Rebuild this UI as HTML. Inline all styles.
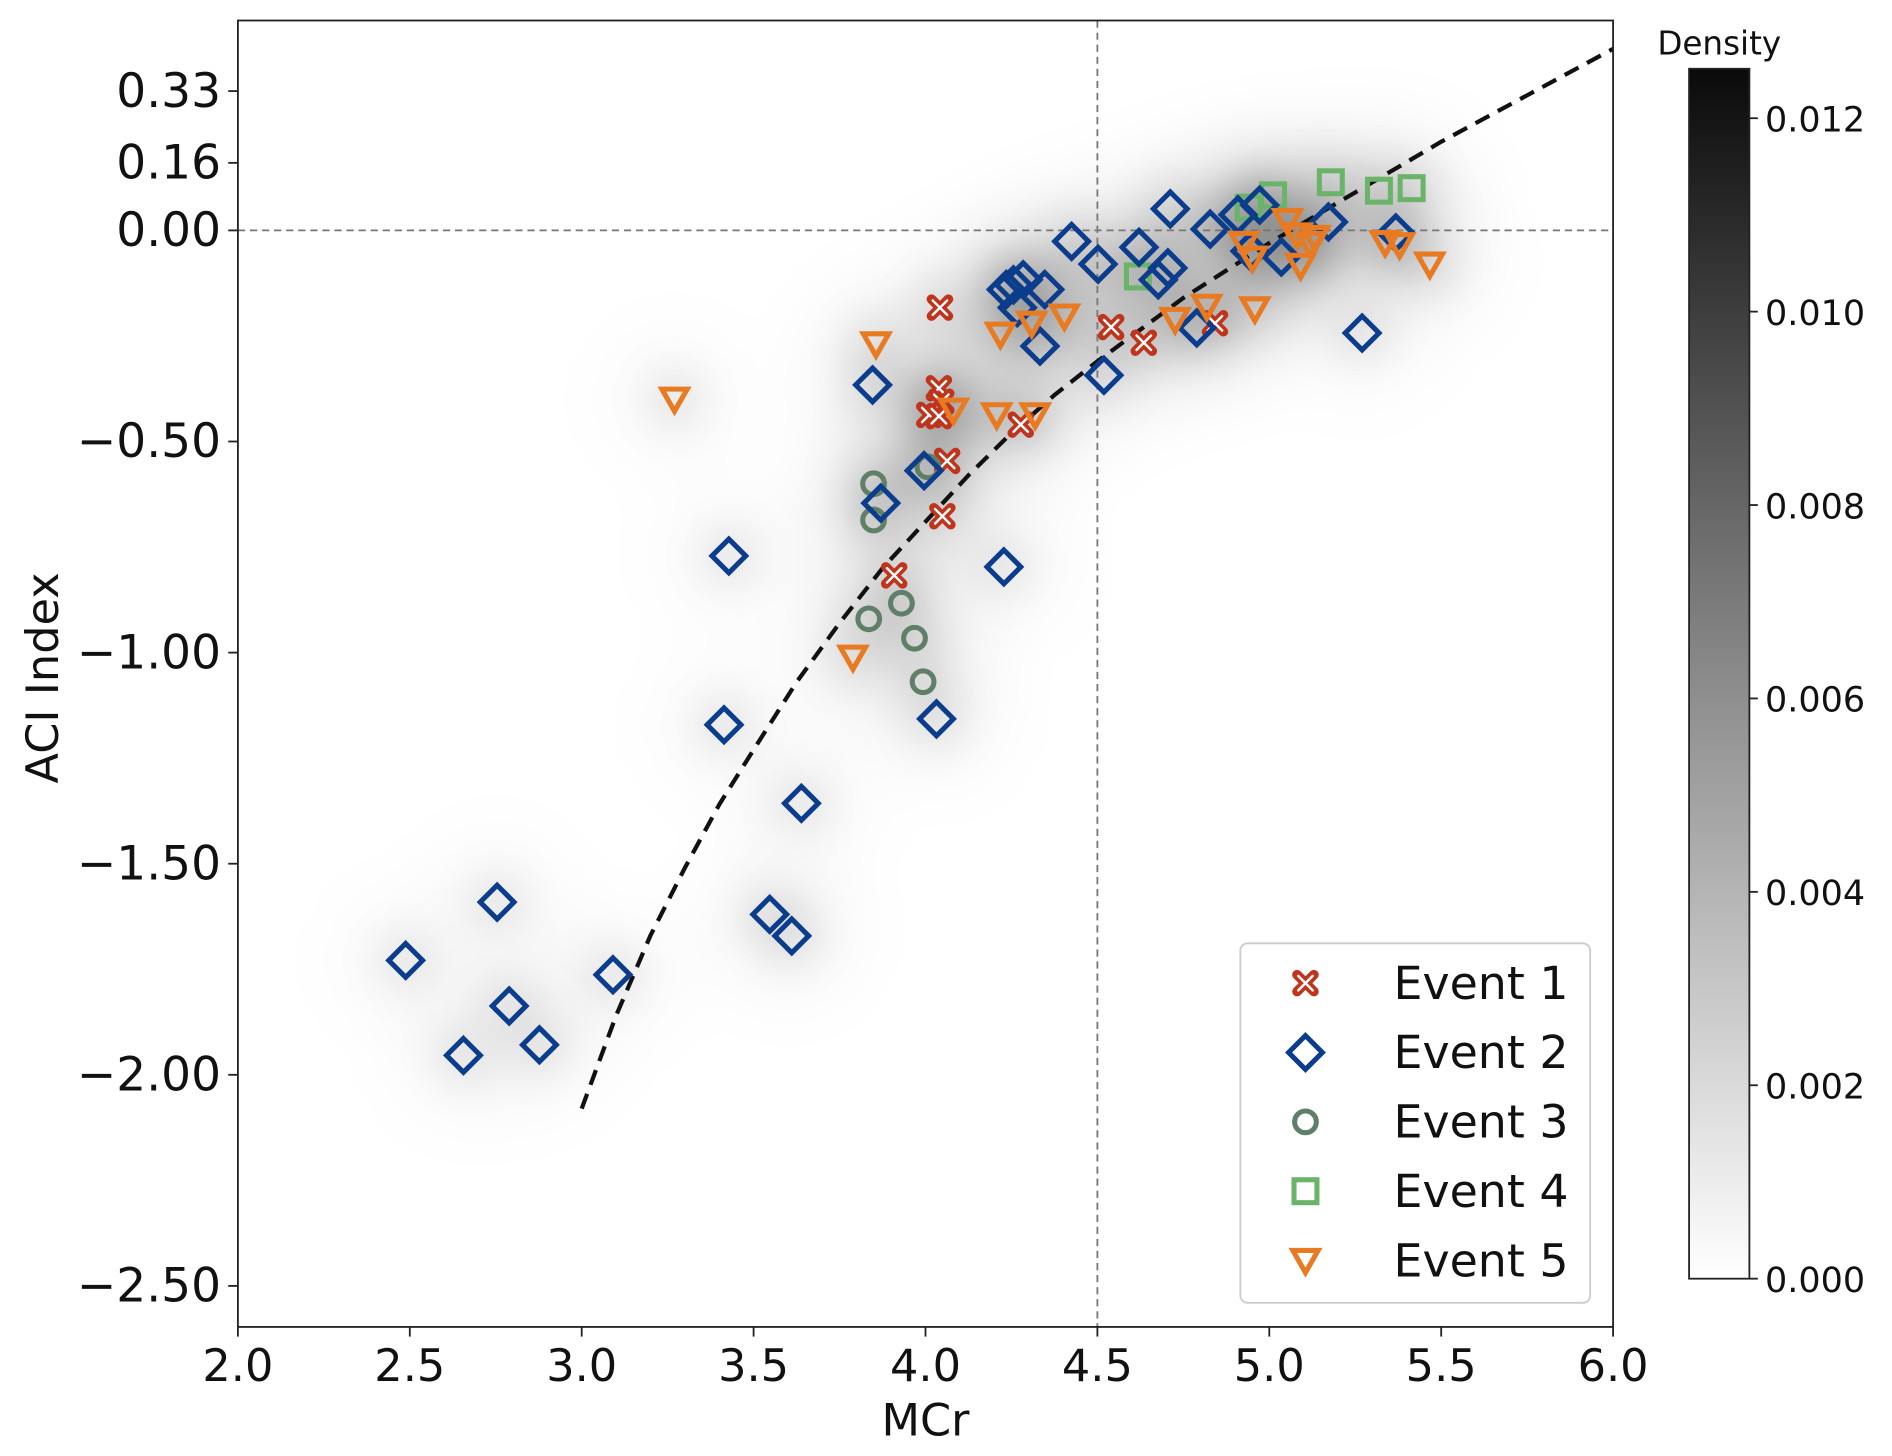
<!DOCTYPE html>
<html><head><meta charset="utf-8"><style>
html,body{margin:0;padding:0;background:#fff;}
svg{display:block;font-family:"DejaVu Sans","Liberation Sans",sans-serif;}
</style></head><body>
<svg id="chart" width="1892" height="1456" viewBox="0 0 1568 1207" xmlns="http://www.w3.org/2000/svg">
<defs>
<filter id="blur" x="-50%" y="-50%" width="200%" height="200%"><feGaussianBlur stdDeviation="16"/></filter>
<filter id="blur2" x="-50%" y="-50%" width="200%" height="200%"><feGaussianBlur stdDeviation="30"/></filter>
<linearGradient id="cbgrad" x1="0" y1="1" x2="0" y2="0">
<stop offset="0" stop-color="#ffffff"/><stop offset="0.5" stop-color="#8a8a8a"/><stop offset="1" stop-color="#0a0a0a"/>
</linearGradient>
<clipPath id="plotclip"><rect x="197" y="17" width="1140" height="1083"/></clipPath>
</defs>
<g clip-path="url(#plotclip)">
<g id="density2" filter="url(#blur2)"></g>
<g id="density" filter="url(#blur)"></g>
</g>
<g id="grid"></g>
<g id="curve"></g>
<g id="marks"></g>
<rect x="197" y="17" width="1140" height="1083" fill="none" stroke="#222" stroke-width="1.5"/>
<g id="axes"></g>
<text x="767" y="1190" font-size="37" text-anchor="middle" fill="#111">MCr</text>
<text transform="translate(48,562) rotate(-90)" font-size="37" text-anchor="middle" fill="#111">ACI Index</text>
<g>
<rect x="1028" y="782" width="290" height="298" rx="6" fill="#fff" fill-opacity="0.85" stroke="#ccc" stroke-width="1.5"/>
<g id="legend-items"></g>
</g>
<g>
<text x="1425" y="45" font-size="27" text-anchor="middle" fill="#111">Density</text>
<rect x="1400" y="57" width="50" height="1003" fill="url(#cbgrad)" stroke="#222" stroke-width="1.5"/>
<g id="cbticks"></g>
</g>
</svg>
<script>
const xTicks=[2.0,2.5,3.0,3.5,4.0,4.5,5.0,5.5,6.0];
const yTicks=[0.33,0.16,0.0,-0.5,-1.0,-1.5,-2.0,-2.5];
const yTickLabels=["0.33","0.16","0.00","\u22120.50","\u22121.00","\u22121.50","\u22122.00","\u22122.50"];
const cbTicks=[0,0.002,0.004,0.006,0.008,0.010,0.012];
const curveX=[3.0,3.1,3.2,3.3,3.4,3.5,3.625,3.75,3.875,4.0,4.125,4.25,4.375,4.5,4.75,5.0,5.25,5.5,5.75,6.0];
const curveY=[-2.08,-1.86,-1.67,-1.51,-1.36,-1.23,-1.07,-0.93,-0.80,-0.69,-0.58,-0.48,-0.39,-0.31,-0.16,-0.03,0.09,0.21,0.32,0.43];
const e1x=[4.042,4.039,4.046,4.011,4.039,4.063,4.049,3.909,4.540,4.635,4.842,4.277];
const e1y=[-0.183,-0.374,-0.406,-0.437,-0.440,-0.546,-0.677,-0.817,-0.229,-0.266,-0.220,-0.460];
const e2x=[2.488,2.656,2.754,2.789,2.877,3.091,3.428,3.414,3.547,3.611,3.639,3.846,3.870,3.996,4.032,4.228,4.235,4.256,4.284,4.267,4.333,4.347,4.425,4.502,4.519,4.621,4.705,4.677,4.712,4.789,4.828,4.909,4.944,5.035,5.172,5.270,5.368,4.972];
const e2y=[-1.729,-1.954,-1.591,-1.837,-1.929,-1.763,-0.771,-1.171,-1.620,-1.671,-1.357,-0.366,-0.646,-0.569,-1.157,-0.797,-0.140,-0.129,-0.117,-0.183,-0.274,-0.140,-0.026,-0.080,-0.343,-0.040,-0.089,-0.117,0.051,-0.231,0.003,0.037,-0.049,-0.063,0.020,-0.243,-0.006,0.060];
const e3x=[3.849,3.849,4.007,3.835,3.930,3.968,3.993];
const e3y=[-0.600,-0.686,-0.560,-0.920,-0.883,-0.966,-1.069];
const e4x=[4.618,4.940,5.011,5.179,5.319,5.414];
const e4y=[-0.109,0.054,0.083,0.114,0.094,0.100];
const e5x=[3.270,3.856,4.081,3.789,4.207,4.319,4.218,4.309,4.404,4.726,4.818,4.958,4.926,4.951,5.053,5.081,5.119,5.133,5.091,5.337,5.379,5.467];
const e5y=[-0.400,-0.269,-0.426,-1.011,-0.437,-0.437,-0.246,-0.220,-0.203,-0.211,-0.180,-0.186,-0.031,-0.066,0.023,-0.011,-0.031,-0.017,-0.083,-0.029,-0.034,-0.080];

const NS="http://www.w3.org/2000/svg";
const X=v=>197+(v-2)*285;
const Y=v=>191-v*350;
const CB=v=>1060-v/0.012*962;
function mk(tag,attrs,parent){const e=document.createElementNS(NS,tag);for(const k in attrs)e.setAttribute(k,attrs[k]);parent.appendChild(e);return e;}
const g=id=>document.getElementById(id);

const dens=g('density'), dens2=g('density2');
const allX=[...e1x,...e2x,...e3x,...e4x,...e5x], allY=[...e1y,...e2y,...e3y,...e4y,...e5y];
allX.forEach((x,i)=>{
const b=mk('circle',{cx:X(x),cy:Y(allY[i]),r:55,fill:'#000','fill-opacity':0.025},dens2);


const c=mk('circle',{cx:X(x),cy:Y(allY[i]),r:26,fill:'#000','fill-opacity':0.07},dens);

});

const grid=g('grid');
let l=mk('line',{x1:X(4.5),x2:X(4.5),y1:17,y2:1100,stroke:'#777','stroke-width':1.5,'stroke-dasharray':'6,4'},grid);


l=mk('line',{x1:197,x2:1337,y1:Y(0),y2:Y(0),stroke:'#777','stroke-width':1.5,'stroke-dasharray':'6,4'},grid);



const p=mk('path',{d:curveX.map((x,i)=>(i?'L':'M')+X(x)+','+Y(curveY[i])).join(' '),fill:'none',stroke:'#111','stroke-width':3.5,'stroke-dasharray':'13,8','stroke-linejoin':'round'},g('curve'));



const ax=g('axes');
xTicks.forEach(t=>{mk('line',{x1:X(t),x2:X(t),y1:1100,y2:1108,stroke:'#222','stroke-width':1.5},ax);
const tx=mk('text',{x:X(t),y:1145,'font-size':37,'text-anchor':'middle',fill:'#111'},ax);tx.textContent=t.toFixed(1);

});
yTicks.forEach((t,i)=>{mk('line',{x1:189,x2:197,y1:Y(t),y2:Y(t),stroke:'#222','stroke-width':1.5},ax);
const tx=mk('text',{x:183,y:Y(t)+13,'font-size':39,'text-anchor':'end',fill:'#111'},ax);tx.textContent=yTickLabels[i];

});
const cbt=g('cbticks');
cbTicks.forEach(t=>{mk('line',{x1:1450,x2:1457,y1:CB(t),y2:CB(t),stroke:'#222','stroke-width':1.5},cbt);
const tx=mk('text',{x:1463,y:CB(t)+11,'font-size':29,fill:'#111'},cbt);tx.textContent=t.toFixed(3);

});

const cols=['#c0341c','#0b3d8c','#5f7f68','#6ab46a','#e87a22'];
function marker(type,cx,cy,parent,s){s=s||1;const c=cols[type];let e;
if(type===0){e=mk('g',{},parent);
mk('line',{x1:cx-7*s,y1:cy-7*s,x2:cx+7*s,y2:cy+7*s,stroke:c,'stroke-width':8*s,'stroke-linecap':'round'},e);
mk('line',{x1:cx-7*s,y1:cy+7*s,x2:cx+7*s,y2:cy-7*s,stroke:c,'stroke-width':8*s,'stroke-linecap':'round'},e);
mk('line',{x1:cx-6*s,y1:cy-6*s,x2:cx+6*s,y2:cy+6*s,stroke:'#fff','stroke-width':2,'stroke-linecap':'round'},e);
mk('line',{x1:cx-6*s,y1:cy+6*s,x2:cx+6*s,y2:cy-6*s,stroke:'#fff','stroke-width':2,'stroke-linecap':'round'},e);}
else if(type===1){const r=14*s;e=mk('path',{d:`M${cx},${cy-r}L${cx+r},${cy}L${cx},${cy+r}L${cx-r},${cy}Z`,fill:'none',stroke:c,'stroke-width':4.2},parent);}
else if(type===2){e=mk('circle',{cx,cy,r:9*s,fill:'none',stroke:c,'stroke-width':4.2},parent);}
else if(type===3){const r=9.5*s;e=mk('rect',{x:cx-r,y:cy-r,width:2*r,height:2*r,fill:'none',stroke:c,'stroke-width':4.2},parent);}
else {const r=10.5*s;e=mk('path',{d:`M${cx-r},${cy-r*0.8}L${cx+r},${cy-r*0.8}L${cx},${cy+r*0.95}Z`,fill:'none',stroke:c,'stroke-width':4.2,'stroke-linejoin':'miter'},parent);}
return e;}
const marks=g('marks');
const series=[[e1x,e1y],[e2x,e2y],[e3x,e3y],[e4x,e4y],[e5x,e5y]];
[0,2,3,1,4].forEach(k=>{const [xs,ys]=series[k];xs.forEach((x,i)=>{const e=marker(k,X(x),Y(ys[i]),marks);

});});

const li=g('legend-items');
['Event 1','Event 2','Event 3','Event 4','Event 5'].forEach((n,i)=>{const y=815+i*57.5;
const m=marker(i,1082,y,li);


const t=mk('text',{x:1155,y:y+13,'font-size':38,fill:'#111'},li);t.textContent=n;

});
</script>
</body></html>
